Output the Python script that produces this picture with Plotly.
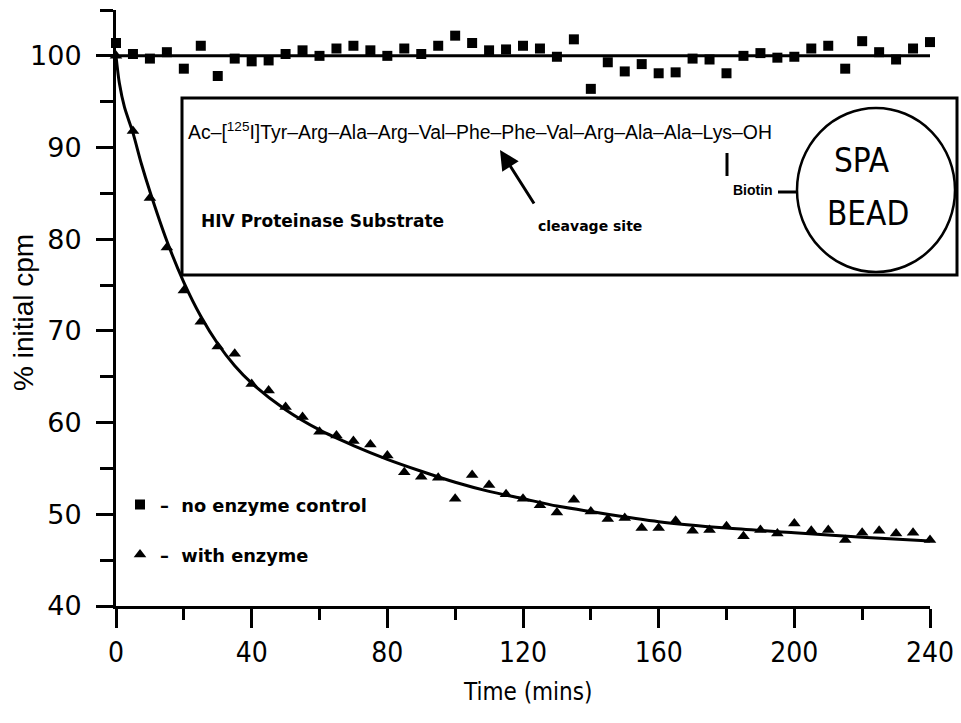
import plotly.graph_objects as go

# ---------------- data ----------------
time_min = [0, 5, 10, 15, 20, 25, 30, 35, 40, 45, 50, 55, 60, 65, 70, 75, 80, 85, 90, 95,
            100, 105, 110, 115, 120, 125, 130, 135, 140, 145, 150, 155, 160, 165, 170, 175,
            180, 185, 190, 195, 200, 205, 210, 215, 220, 225, 230, 235, 240]

no_enzyme = [101.4, 100.2, 99.7, 100.4, 98.6, 101.1, 97.8, 99.7, 99.4, 99.5,
             100.2, 100.6, 100.0, 100.8, 101.1, 100.6, 100.0, 100.8, 100.2, 101.1,
             102.2, 101.4, 100.6, 100.7, 101.1, 100.8, 99.9, 101.8, 96.4, 99.3,
             98.3, 99.1, 98.1, 98.2, 99.7, 99.6, 98.1, 100.0, 100.3, 99.8,
             99.9, 100.8, 101.1, 98.6, 101.6, 100.4, 99.6, 100.8, 101.5]

with_enzyme = [100.0, 91.8, 84.5, 79.1, 74.4, 71.0, 68.3, 67.5, 64.2, 63.5,
               61.7, 60.6, 59.0, 58.6, 58.0, 57.6, 56.4, 54.6, 54.1, 54.0,
               51.7, 54.3, 53.2, 52.2, 51.7, 51.0, 50.2, 51.6, 50.3, 49.5,
               49.6, 48.5, 48.5, 49.3, 48.2, 48.3, 48.7, 47.6, 48.3, 47.9,
               49.0, 48.2, 48.3, 47.2, 48.0, 48.2, 47.9, 48.0, 47.2]

control_fit_t = [0, 240]
control_fit_v = [100.0, 100.0]

enzyme_fit_t = [0, 1, 2.5, 5, 7.5, 10, 15, 20, 25, 30, 35, 40, 50, 60, 70, 80, 90,
                100, 110, 120, 130, 140, 160, 180, 200, 220, 240]
enzyme_fit_v = [100.0, 97.0, 94.4, 91.6, 88.2, 85.2, 79.8, 75.3, 71.6, 68.6, 66.2, 64.3,
                61.4, 59.2, 57.5, 56.0, 54.7, 53.5, 52.5, 51.7, 50.9, 50.3, 49.2, 48.5,
                48.0, 47.5, 47.1]

x_ticks = [0, 40, 80, 120, 160, 200, 240]
y_ticks = [40, 50, 60, 70, 80, 90, 100]

# ---------------- layout helpers ----------------
W, H = 961, 723
L, R, T, B = 116, 31, 10, 117
PW, PH = W - L - R, H - T - B


def px(x):
    return (x - L) / PW


def py(y):
    return (H - B - y) / PH


NARROW = "DejaVu Sans Condensed, Liberation Sans Narrow, Liberation Sans, sans-serif"
SANS = "Liberation Sans, Arial, sans-serif"
BOLD = "DejaVu Sans, sans-serif"

fig = go.Figure()

fig.add_trace(go.Scatter(x=control_fit_t, y=control_fit_v, mode="lines",
                         line=dict(color="black", width=3), showlegend=False,
                         cliponaxis=False))
fig.add_trace(go.Scatter(x=enzyme_fit_t, y=enzyme_fit_v, mode="lines",
                         line=dict(color="black", width=3, shape="spline", smoothing=0.8),
                         showlegend=False, cliponaxis=False))
fig.add_trace(go.Scatter(x=time_min, y=no_enzyme, mode="markers",
                         marker=dict(symbol="square", size=10, color="black"),
                         name="<b>–  no enzyme control</b>", legend="legend",
                         cliponaxis=False))
fig.add_trace(go.Scatter(x=time_min, y=with_enzyme, mode="markers",
                         marker=dict(symbol="triangle-up", size=11, color="black"),
                         name="<b>–  with enzyme</b>", legend="legend2",
                         cliponaxis=False))

shapes = [
    dict(type="rect", xref="paper", yref="paper", x0=px(182), x1=px(957),
         y0=py(275), y1=py(98), line=dict(color="black", width=3),
         fillcolor="white", layer="above"),
    dict(type="circle", xref="paper", yref="paper", x0=px(797), x1=px(955),
         y0=py(272), y1=py(108), line=dict(color="black", width=2.5),
         fillcolor="white", layer="above"),
    dict(type="line", xref="paper", yref="paper", x0=px(778), x1=px(797),
         y0=py(192), y1=py(192), line=dict(color="black", width=3), layer="above"),
    dict(type="line", xref="paper", yref="paper", x0=px(727), x1=px(727),
         y0=py(176), y1=py(153), line=dict(color="black", width=3), layer="above"),
]

annotations = [
    dict(text="Ac–[<sup>125</sup>I]Tyr–Arg–Ala–Arg–Val–Phe–Phe–Val–Arg–Ala–Ala–Lys–OH",
         x=px(186), y=py(131), xanchor="left", yanchor="middle",
         font=dict(family=SANS, size=19.4, color="black")),
    dict(text="<b>HIV Proteinase Substrate</b>", x=px(199), y=py(221),
         xanchor="left", yanchor="middle",
         font=dict(family=BOLD, size=17, color="black")),
    dict(text="<b>cleavage site</b>", x=px(536), y=py(226), xanchor="left",
         yanchor="middle", font=dict(family=BOLD, size=14, color="black")),
    dict(text="<b>Biotin</b>", x=px(775), y=py(190), xanchor="right",
         yanchor="middle", font=dict(family=SANS, size=14, color="black")),
    dict(text="SPA", x=px(862), y=py(160), xanchor="center", yanchor="middle",
         font=dict(family=NARROW, size=33, color="black")),
    dict(text="BEAD", x=px(868), y=py(213), xanchor="center", yanchor="middle",
         font=dict(family=NARROW, size=33, color="black")),
    dict(text="", x=px(500), y=py(150), showarrow=True, ax=35, ay=55,
         arrowhead=2, arrowsize=1.3, arrowwidth=3, arrowcolor="black", standoff=0),
    dict(text="Time (mins)", x=px(527), y=py(692), xanchor="center", yanchor="middle",
         font=dict(family=NARROW, size=24, color="black")),
    dict(text="% initial cpm", x=px(23), y=py(313), xanchor="center", yanchor="middle",
         textangle=-90, font=dict(family=SANS, size=28, color="black")),
]

for a in annotations:
    a.setdefault("xref", "paper")
    a.setdefault("yref", "paper")
    a.setdefault("showarrow", False)

fig.update_layout(
    width=W, height=H,
    margin=dict(l=L, r=R, t=T, b=B, autoexpand=False),
    paper_bgcolor="white", plot_bgcolor="white",
    shapes=shapes, annotations=annotations,
    legend=dict(x=px(120), y=py(505), xanchor="left", yanchor="middle",
                bgcolor="rgba(0,0,0,0)", font=dict(family=BOLD, size=17.8, color="black")),
    legend2=dict(x=px(120), y=py(555), xanchor="left", yanchor="middle",
                 bgcolor="rgba(0,0,0,0)", font=dict(family=BOLD, size=17.8, color="black")),
    xaxis=dict(range=[0, 240], tickvals=x_ticks, ticktext=[str(v) for v in x_ticks],
               showgrid=False, zeroline=False, showline=True, linewidth=3,
               linecolor="black", ticks="outside", ticklen=19, tickwidth=3,
               tickcolor="black", ticklabelstandoff=0,
               tickfont=dict(family=NARROW, size=28, color="black"),
               minor=dict(tickvals=[20, 60, 100, 140, 180, 220], ticks="outside",
                          ticklen=11, tickwidth=3, tickcolor="black", showgrid=False)),
    yaxis=dict(range=[40, 105], tickvals=y_ticks, ticktext=[str(v) for v in y_ticks],
               showgrid=False, zeroline=False, showline=True, linewidth=3,
               linecolor="black", ticks="outside", ticklen=17, tickwidth=3,
               tickcolor="black", ticklabelstandoff=9,
               tickfont=dict(family=BOLD, size=27, color="black"),
               minor=dict(tickvals=[45, 55, 65, 75, 85, 95, 105], ticks="outside",
                          ticklen=13, tickwidth=3, tickcolor="black", showgrid=False)),
)

fig.write_html("out.html", config={"displayModeBar": False},
               post_script="document.body.style.margin='0';")
